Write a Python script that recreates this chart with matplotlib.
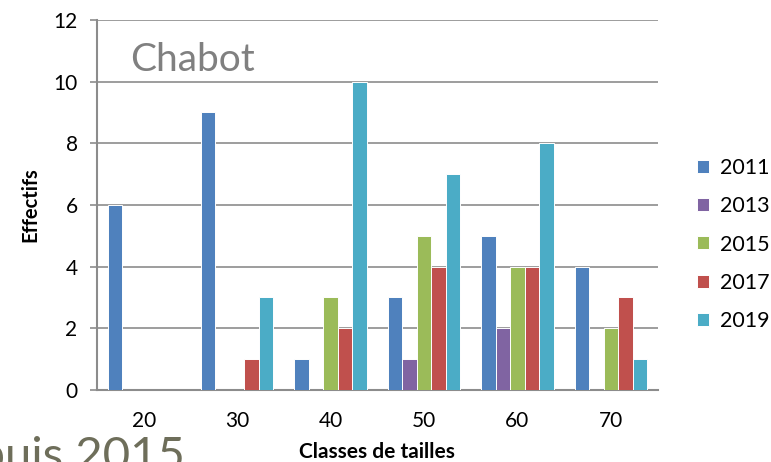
import numpy as np
import matplotlib.pyplot as plt

plt.rcParams['font.family'] = ['Lato', 'DejaVu Sans']

classes = ['20', '30', '40', '50', '60', '70']
years = ['2011', '2013', '2015', '2017', '2019']
counts = {
    '2011': [6, 9, 1, 3, 5, 4],
    '2013': [0, 0, 0, 1, 2, 0],
    '2015': [0, 0, 3, 5, 4, 2],
    '2017': [0, 1, 2, 4, 4, 3],
    '2019': [0, 3, 10, 7, 8, 1],
}
colors = ['#4f81bd', '#8064a2', '#9bbb59', '#c0504d', '#4bacc6']

fig = plt.figure(figsize=(7.71, 4.62), dpi=100)
ax = fig.add_axes([0.1258, 0.156, 0.727, 0.801])

x = np.arange(len(classes))
w = 0.155
for i, (yr, c) in enumerate(zip(years, colors)):
    ax.bar(x + (i - 2) * w, counts[yr], w, color=c, edgecolor='white',
           linewidth=0.7, label=yr, zorder=3)

ax.set_xlim(-0.5, len(classes) - 0.5)
ax.set_ylim(0, 12)
ax.set_yticks(range(0, 13, 2))
ax.set_xticks(x)
ax.set_xticklabels(classes)
ax.yaxis.grid(True, color='#8c8c8c', linewidth=1.2, zorder=0)
for s in ['top', 'right']:
    ax.spines[s].set_visible(False)
for s in ['left', 'bottom']:
    ax.spines[s].set_color('#8c8c8c')
    ax.spines[s].set_linewidth(1.5)
ax.tick_params(axis='y', length=5, color='#8c8c8c', width=1.2, labelsize=15, pad=9)
ax.tick_params(axis='x', length=0, labelsize=15, pad=15)

ax.set_xlabel('Classes de tailles', fontsize=15, fontweight='bold', labelpad=8)
ax.set_ylabel('Effectifs', fontsize=14.5, fontweight='bold', labelpad=9)

ax.text(0.06, 0.94, 'Chabot', transform=ax.transAxes, fontsize=28,
        color='#808080', va='top')

ax.legend(loc='center left', bbox_to_anchor=(697 / 771, 1 - 244.5 / 462),
          bbox_transform=fig.transFigure, frameon=False, borderpad=0,
          borderaxespad=0, fontsize=15.5, handlelength=0.55, handleheight=0.55,
          labelspacing=0.85, handletextpad=0.5)

fig.text(185 / 771, -8 / 462, 'depuis 2015', fontsize=34, color='#6e6e5a',
         ha='right', va='baseline')

fig.savefig('out.png', dpi=100)
